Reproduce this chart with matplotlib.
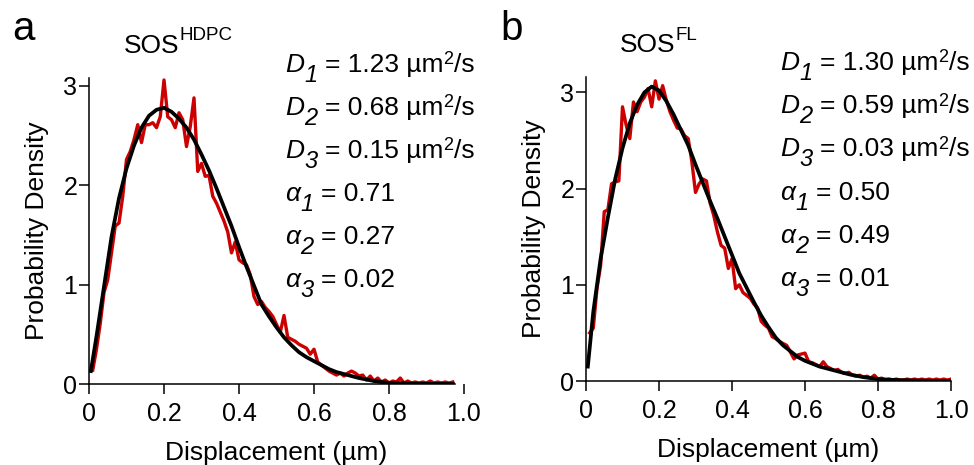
"""
Displacement distributions, SOS^HDPC vs SOS^FL
Red = measured histogram, black = 3-component fit
"""

import numpy as np
import matplotlib
matplotlib.use("Agg")
import matplotlib.pyplot as plt
import matplotlib.transforms as mtransforms

# ── Fonts ─────────────────────────────────────────────────────────────────────
plt.rcParams["font.family"] = ["Liberation Sans", "DejaVu Sans"]

# ── Data: panel a (SOS^HDPC) ──────────────────────────────────────────────────
hist_x_a = np.round(np.arange(0.01, 0.975, 0.01), 2)
hist_y_a = [
    0.14, 0.35, 0.61, 0.92, 1.05, 1.32, 1.59, 1.62, 1.89, 2.26,
    2.34, 2.46, 2.61, 2.43, 2.61, 2.61, 2.63, 2.58, 2.69, 3.06,
    2.69, 2.66, 2.58, 2.73, 2.66, 2.39, 2.59, 2.88, 2.14, 2.22,
    2.09, 2.10, 1.89, 1.82, 1.73, 1.64, 1.53, 1.32, 1.43, 1.25,
    1.22, 1.20, 1.10, 0.88, 0.80, 0.83, 0.77, 0.73, 0.68, 0.60,
    0.52, 0.69, 0.47, 0.45, 0.43, 0.40, 0.38, 0.36, 0.30, 0.35,
    0.22, 0.19, 0.16, 0.13, 0.11, 0.09, 0.11, 0.08, 0.11, 0.13,
    0.11, 0.08, 0.09, 0.04, 0.08, 0.03, 0.06, 0.02, 0.04, 0.01,
    0.03, 0.02, 0.06, 0.01, 0.03, 0.01, 0.02, 0.01, 0.02, 0.01,
    0.03, 0.01, 0.02, 0.01, 0.02, 0.01, 0.02,
]
fit_x_a = [0.005, 0.02, 0.04, 0.06, 0.08, 0.10, 0.12, 0.14, 0.16, 0.18,
           0.20, 0.22, 0.24, 0.26, 0.28, 0.30, 0.32, 0.34, 0.36, 0.38,
           0.40, 0.42, 0.44, 0.46, 0.48, 0.50, 0.52, 0.54, 0.56, 0.58,
           0.60, 0.62, 0.64, 0.66, 0.68, 0.70, 0.72, 0.74, 0.76, 0.78,
           0.80, 0.85, 0.90, 0.97]
fit_y_a = [0.13, 0.48, 0.98, 1.48, 1.87, 2.17, 2.40, 2.58, 2.70, 2.76,
           2.78, 2.74, 2.67, 2.58, 2.46, 2.31, 2.15, 1.97, 1.78, 1.59,
           1.38, 1.18, 0.99, 0.80, 0.68, 0.57, 0.47, 0.39, 0.32, 0.27,
           0.23, 0.19, 0.15, 0.12, 0.10, 0.08, 0.06, 0.045, 0.03, 0.02,
           0.012, 0.005, 0.002, 0.0]

# ── Data: panel b (SOS^FL) ────────────────────────────────────────────────────
hist_x_b = np.round(np.arange(0.01, 1.005, 0.01), 2)
hist_y_b = [
    0.50, 0.55, 0.96, 1.20, 1.76, 1.78, 2.05, 2.07, 2.08, 2.85,
    2.66, 2.52, 2.90, 2.80, 2.90, 2.95, 3.04, 2.85, 3.12, 2.93,
    3.07, 2.92, 2.80, 2.71, 2.63, 2.62, 2.55, 2.52, 2.28, 1.96,
    2.05, 2.10, 2.08, 1.85, 1.72, 1.55, 1.41, 1.38, 1.17, 1.27,
    0.96, 1.00, 0.92, 0.89, 0.86, 0.80, 0.76, 0.62, 0.58, 0.55,
    0.46, 0.44, 0.41, 0.39, 0.37, 0.30, 0.23, 0.27, 0.28, 0.29,
    0.20, 0.19, 0.17, 0.15, 0.20, 0.15, 0.13, 0.11, 0.12, 0.09,
    0.08, 0.09, 0.06, 0.05, 0.06, 0.04, 0.05, 0.03, 0.06, 0.02,
    0.03, 0.01, 0.02, 0.01, 0.02, 0.01, 0.01, 0.02, 0.01, 0.02,
    0.01, 0.02, 0.01, 0.02, 0.01, 0.02, 0.01, 0.02, 0.01, 0.02,
]
fit_x_b = [0.005, 0.02, 0.04, 0.06, 0.08, 0.10, 0.12, 0.14, 0.16, 0.18,
           0.20, 0.22, 0.24, 0.26, 0.28, 0.30, 0.32, 0.34, 0.36, 0.38,
           0.40, 0.42, 0.44, 0.46, 0.48, 0.50, 0.52, 0.54, 0.56, 0.58,
           0.60, 0.62, 0.64, 0.66, 0.68, 0.70, 0.72, 0.74, 0.76, 0.78,
           0.80, 0.85, 0.90, 0.95, 1.00]
fit_y_b = [0.15, 0.72, 1.27, 1.70, 2.10, 2.42, 2.68, 2.87, 3.00, 3.06,
           3.02, 2.91, 2.77, 2.61, 2.45, 2.25, 2.06, 1.87, 1.69, 1.50,
           1.31, 1.12, 0.97, 0.82, 0.68, 0.56, 0.45, 0.37, 0.31, 0.25,
           0.21, 0.18, 0.15, 0.13, 0.11, 0.09, 0.07, 0.055, 0.04, 0.03,
           0.02, 0.01, 0.005, 0.002, 0.0]

# ── Labels ────────────────────────────────────────────────────────────────────
title_base = "SOS"
title_sup = ["HDPC", "FL"]
letters = ["a", "b"]
D_vals_a = ["1.23", "0.68", "0.15"]
alpha_vals_a = ["0.71", "0.27", "0.02"]
D_vals_b = ["1.30", "0.59", "0.03"]
alpha_vals_b = ["0.50", "0.49", "0.01"]
xticks = [0, 0.2, 0.4, 0.6, 0.8, 1.0]
xticklabels = ["0", "0.2", "0.4", "0.6", "0.8", "1.0"]
yticks = [0, 1, 2, 3]

RED = "#cc0000"
FS_TICK = 18
FS = 19

# ── Figure ────────────────────────────────────────────────────────────────────
fig = plt.figure(figsize=(9.74, 4.65), dpi=100)
W, H = 974, 465
renderer = fig.canvas.get_renderer()


def rich_text(ax, x, y, pieces):
    """Lay out pieces (text, size, style, dy_pt, gap_pt) left to right."""
    dx = 0.0
    for s, size, style, dy, gap in pieces:
        tr = mtransforms.offset_copy(ax.transAxes, fig=fig, x=dx, y=dy, units="points")
        t = ax.text(x, y, s, transform=tr, fontsize=size, style=style,
                    ha="left", va="baseline", clip_on=False)
        dx += t.get_window_extent(renderer).width * 72 / fig.dpi + gap


# axes boxes in pixels: left, right, bottom(y=0), top
boxes = [(89, 464, 384, 78), (586, 951, 381, 77)]
ylims = [3.08, 3.16]
panels = [
    (hist_x_a, hist_y_a, fit_x_a, fit_y_a, D_vals_a, alpha_vals_a, 0.975),
    (hist_x_b, hist_y_b, fit_x_b, fit_y_b, D_vals_b, alpha_vals_b, 1.0),
]
text_left = [0.523, 0.532]
text_top = [1.02, 1.023]
text_step = [0.1405, 0.142]

for i, (hx, hy, fx, fy, dvals, avals, xend) in enumerate(panels):
    l, r, b, t = boxes[i]
    ax = fig.add_axes([l / W, 1 - b / H, (r - l) / W, (b - t) / H])
    ax.plot(hx, hy, color=RED, lw=2.4, zorder=2)
    ax.plot(fx, fy, color="black", lw=2.7, zorder=3)

    ax.set_xlim(0, 1.0)
    ax.set_ylim(0, ylims[i])
    ax.set_xticks(xticks)
    ax.set_xticklabels(xticklabels)
    ax.set_yticks(yticks)
    ax.tick_params(direction="out", length=7, width=1.1, labelsize=FS_TICK)
    ax.tick_params(axis="x", pad=6)
    ax.tick_params(axis="y", pad=1.5)
    for side in ["top", "right"]:
        ax.spines[side].set_visible(False)
    for side in ["left", "bottom"]:
        ax.spines[side].set_linewidth(1.1)
    ax.spines["bottom"].set_bounds(0, xend)
    ax.set_xlabel("Displacement (µm)", fontsize=FS, labelpad=11)
    ax.set_ylabel("Probability Density", fontsize=FS, labelpad=10)

    # title with superscript
    rich_text(ax, 0.093, 1.082, [(title_base, FS, "normal", 0, 0.3),
                                 (title_sup[i], 13.5, "normal", 9.0, 0)])

    # fit parameters
    lines = []
    for k, v in enumerate(dvals):
        lines.append([("D", FS, "italic", 0, 0.3), (str(k + 1), 17, "italic", -7.2, 5.5),
                      ("= " + v + " µm", FS, "normal", 0, -0.3),
                      ("2", 13, "normal", 5.5, 0.2), ("/s", FS, "normal", 0, 0)])
    for k, v in enumerate(avals):
        lines.append([("α", FS, "italic", 0, 0.3), (str(k + 1), 17, "italic", -7.2, 5.5),
                      ("= " + v, FS, "normal", 0, 0)])
    for k, pieces in enumerate(lines):
        rich_text(ax, text_left[i], text_top[i] - k * text_step[i], pieces)

fig.text(12 / W, 1 - 40 / H, letters[0], fontsize=29, va="baseline", ha="left")
fig.text(500 / W, 1 - 40 / H, letters[1], fontsize=29, va="baseline", ha="left")

fig.savefig("out.png", dpi=100)
